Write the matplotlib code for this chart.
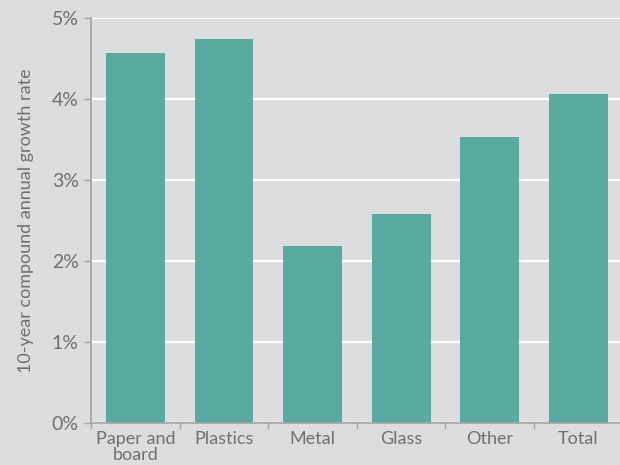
import matplotlib
matplotlib.use("Agg", force=True)
import matplotlib.pyplot as plt
from matplotlib.ticker import FixedLocator, PercentFormatter

categories = ["Paper and\nboard", "Plastics", "Metal", "Glass", "Other", "Total"]
growth_pct = [4.57, 4.74, 2.19, 2.58, 3.53, 4.06]
y_ticks = [0, 1, 2, 3, 4, 5]

bg = "#dcdddf"
bar_color = "#5aab9f"
text_color = "#707070"
axis_color = "#a3a3a3"

plt.rcParams["font.family"] = ["Lato", "DejaVu Sans"]

fig = plt.figure(figsize=(6.2, 4.65), dpi=100, facecolor=bg)
ax = fig.add_axes([0.147, 0.090, 0.853, 0.871], facecolor=bg)

x = list(range(len(categories)))
ax.set_yticks(y_ticks)
ax.set_ylim(0, 5)
ax.set_xlim(-0.5, 5.47)
ax.grid(axis="y", color="white", linewidth=1.6, zorder=0)
ax.set_axisbelow(True)

ax.bar(x, growth_pct, width=0.665, color=bar_color, zorder=2)

ax.yaxis.set_major_formatter(PercentFormatter(decimals=0))
ax.set_xticks(x)
ax.set_xticklabels(categories, fontsize=13, color=text_color, linespacing=0.95)
ax.xaxis.set_minor_locator(FixedLocator([i - 0.5 for i in range(len(categories) + 1)]))
ax.tick_params(axis="x", which="major", length=0, pad=6)
ax.tick_params(axis="x", which="minor", length=4, color=axis_color, width=1)
ax.tick_params(axis="y", length=5, color=axis_color, width=1, labelsize=14,
               labelcolor=text_color, pad=4)

for side in ["top", "right"]:
    ax.spines[side].set_visible(False)
for side in ["left", "bottom"]:
    ax.spines[side].set_color(axis_color)
    ax.spines[side].set_linewidth(1.2)

ax.set_ylabel("10-year compound annual growth rate", fontsize=13,
              color=text_color, labelpad=13)

fig.savefig("out.png", dpi=100, facecolor=bg)
